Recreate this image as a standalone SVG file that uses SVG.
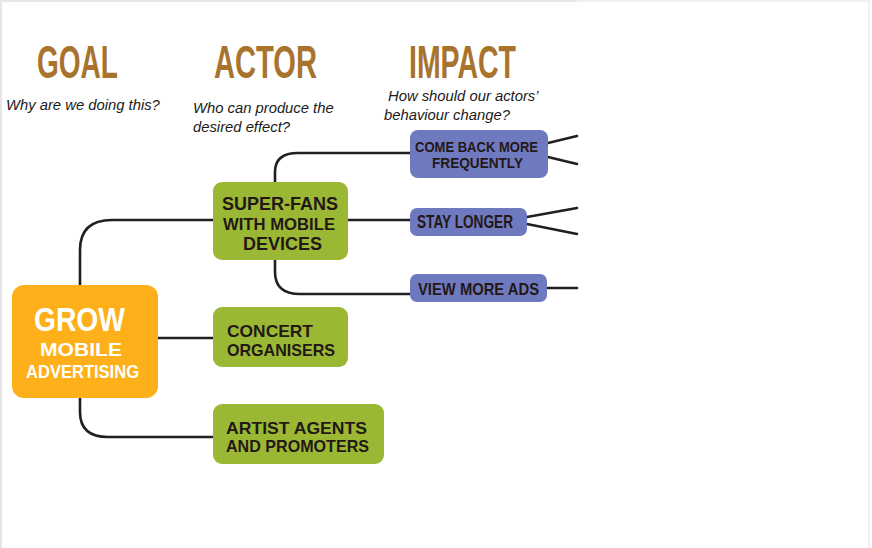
<svg xmlns="http://www.w3.org/2000/svg" width="872" height="548" viewBox="0 0 872 548">
<style>
.head{font-family:"Liberation Sans","DejaVu Sans",sans-serif;font-weight:bold;fill:#a8732c;font-size:46px}
.sub{font-family:"Liberation Sans",Arial,sans-serif;font-style:italic;font-size:14.8px;fill:#1a1a1a}
.lbl{font-family:"Liberation Sans","DejaVu Sans",sans-serif;font-weight:bold;fill:#231815}
.wht{fill:#ffffff}
.goal{fill:#fdb019}
.actor{fill:#9bb834}
.impact{fill:#6f79bf}
.conn path{fill:none;stroke:#231f20;stroke-width:2.6;stroke-linecap:round}
</style>
<rect x="0" y="0" width="872" height="548" fill="#ffffff"/>
<path d="M1 0V548M0 1H577" stroke="#e6e6e6" stroke-width="2" fill="none"/>
<path d="M577 1H869V548" stroke="#f0f0f0" stroke-width="2" fill="none"/>

<g id="headings">
<text class="head" x="37" y="78" textLength="81" lengthAdjust="spacingAndGlyphs">GOAL</text>
<text class="head" x="214" y="78" textLength="103" lengthAdjust="spacingAndGlyphs">ACTOR</text>
<text class="head" x="409" y="78" textLength="107" lengthAdjust="spacingAndGlyphs">IMPACT</text>
<text class="sub" x="6" y="110">Why are we doing this?</text>
<text class="sub" x="193" y="113">Who can produce the</text>
<text class="sub" x="193" y="132">desired effect?</text>
<text class="sub" x="388" y="101">How should our actors’</text>
<text class="sub" x="384" y="120">behaviour change?</text>
</g>

<g id="connectors" class="conn">
<path d="M80 285V250Q80 220 112 220H213"/>
<path d="M158 338H213"/>
<path d="M80 398V412Q80 437 108 437H213"/>
<path d="M275 182V172Q275 153 298 153H411"/>
<path d="M348 220H411"/>
<path d="M275 260V272Q275 294 300 294H411"/>
<path d="M548 143L577 136"/>
<path d="M548 157L577 164"/>
<path d="M527 217L577 208"/>
<path d="M527 224L577 234"/>
<path d="M547 288H577"/>
</g>

<g id="grow">
<rect class="goal" x="12" y="285" width="146" height="113" rx="12"/>
<text class="lbl wht" x="34" y="331" font-size="34" textLength="91" lengthAdjust="spacingAndGlyphs">GROW</text>
<text class="lbl wht" x="40" y="356" font-size="18" textLength="82" lengthAdjust="spacingAndGlyphs">MOBILE</text>
<text class="lbl wht" x="26" y="378" font-size="18" textLength="113" lengthAdjust="spacingAndGlyphs">ADVERTISING</text>
</g>

<g id="superfans">
<rect class="actor" x="213" y="182" width="135" height="78" rx="9"/>
<text class="lbl" x="222" y="210" font-size="19" textLength="116" lengthAdjust="spacingAndGlyphs">SUPER-FANS</text>
<text class="lbl" x="223" y="230" font-size="17" textLength="112" lengthAdjust="spacingAndGlyphs">WITH MOBILE</text>
<text class="lbl" x="243" y="250" font-size="18" textLength="79" lengthAdjust="spacingAndGlyphs">DEVICES</text>
</g>

<g id="concert">
<rect class="actor" x="213" y="307" width="135" height="60" rx="9"/>
<text class="lbl" x="227" y="337" font-size="17" textLength="86" lengthAdjust="spacingAndGlyphs">CONCERT</text>
<text class="lbl" x="227" y="356" font-size="17" textLength="108" lengthAdjust="spacingAndGlyphs">ORGANISERS</text>
</g>

<g id="artist">
<rect class="actor" x="213" y="404" width="171" height="60" rx="9"/>
<text class="lbl" x="226" y="434" font-size="16.5" textLength="141" lengthAdjust="spacingAndGlyphs">ARTIST AGENTS</text>
<text class="lbl" x="226" y="452" font-size="16.5" textLength="143" lengthAdjust="spacingAndGlyphs">AND PROMOTERS</text>
</g>

<g id="comeback">
<rect class="impact" x="410" y="130" width="138" height="48" rx="8"/>
<text class="lbl" x="415" y="152" font-size="14" textLength="123" lengthAdjust="spacingAndGlyphs">COME BACK MORE</text>
<text class="lbl" x="432" y="168" font-size="15" textLength="91" lengthAdjust="spacingAndGlyphs">FREQUENTLY</text>
</g>

<g id="staylonger">
<rect class="impact" x="410" y="208" width="117" height="28" rx="7"/>
<text class="lbl" x="417" y="228" font-size="18" textLength="96" lengthAdjust="spacingAndGlyphs">STAY LONGER</text>
</g>

<g id="viewmoreads">
<rect class="impact" x="410" y="274" width="137" height="28" rx="7"/>
<text class="lbl" x="418" y="295" font-size="17" textLength="121" lengthAdjust="spacingAndGlyphs">VIEW MORE ADS</text>
</g>
</svg>
